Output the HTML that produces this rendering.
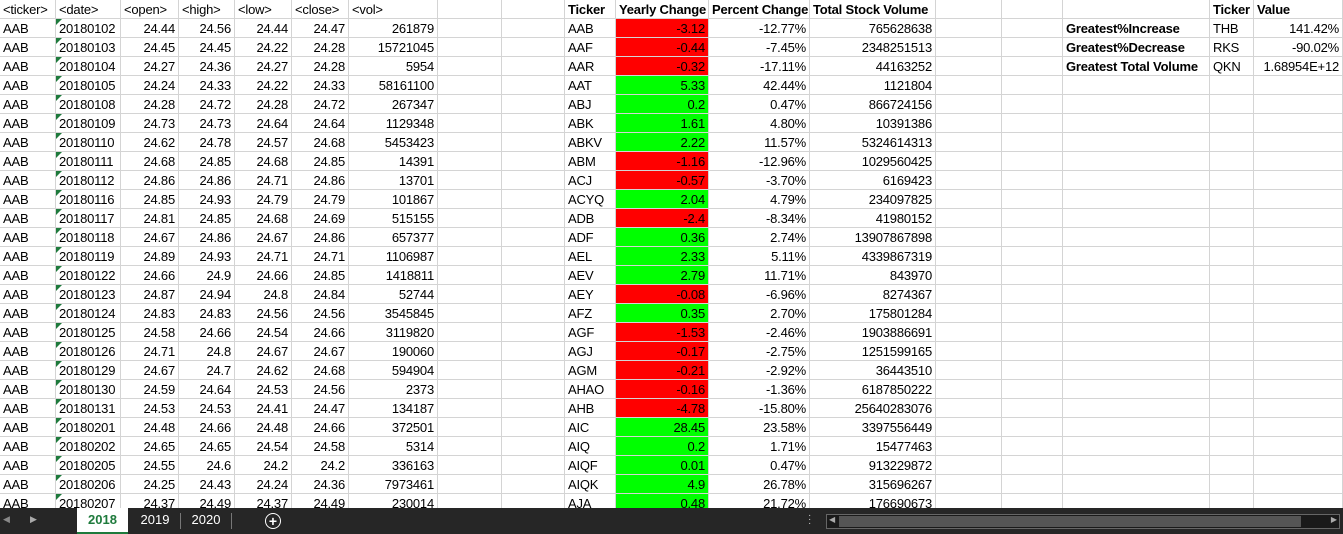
<!DOCTYPE html>
<html><head><meta charset="utf-8">
<style>
body{margin:0;width:1343px;height:534px;overflow:hidden;background:#fff;font-family:"Liberation Sans",Arial,sans-serif;font-size:13px;color:#000;position:relative}
#grid{position:absolute;left:0;top:0;width:1343px;height:508px;overflow:hidden}
.c{position:absolute;height:19px;line-height:19px;box-sizing:border-box;border-right:1px solid #d4d4d4;border-bottom:1px solid #d4d4d4;padding:0 3px;white-space:nowrap;overflow:hidden;letter-spacing:-0.2px}
.r{text-align:right}
.b{font-weight:bold}
.tri{position:absolute;left:0;top:0;width:0;height:0;border-top:6px solid #1e7a3c;border-right:6px solid transparent}
#tabs{position:absolute;left:0;top:508px;width:1343px;height:26px;background:#262626;color:#ddd}
</style></head><body>
<div id="grid"></div>
<div id="tabs">
 <div style="position:absolute;left:3px;top:6px;color:#888;font-size:9px">◀</div>
 <div style="position:absolute;left:30px;top:6px;color:#aaa;font-size:9px">▶</div>
 <div style="position:absolute;left:77px;top:0;width:51px;height:24px;background:#fff;border-bottom:2px solid #1e7a3c;color:#1e7a3c;font-weight:bold;text-align:center;line-height:24px">2018</div>
 <div style="position:absolute;left:130px;top:0;width:50px;height:26px;text-align:center;line-height:24px;color:#fff">2019</div>
 <div style="position:absolute;left:180px;top:5px;width:1px;height:16px;background:#777"></div>
 <div style="position:absolute;left:181px;top:0;width:50px;height:26px;text-align:center;line-height:24px;color:#fff">2020</div>
 <div style="position:absolute;left:231px;top:5px;width:1px;height:16px;background:#777"></div>
 <div style="position:absolute;left:265px;top:5px;width:14px;height:14px;border:1.5px solid #fff;border-radius:50%;color:#fff;text-align:center;line-height:14px;font-weight:bold;font-size:14px">+</div>
 <div style="position:absolute;left:808px;top:6px;color:#ccc;font-size:10px;line-height:4px">·<br>·<br>·</div>
 <div style="position:absolute;left:826px;top:6px;width:514px;height:15px;background:#1a1a1a;border:1px solid #666;box-sizing:border-box">
  <div style="position:absolute;left:12px;top:1px;width:462px;height:11px;background:#555"></div>
  <div style="position:absolute;left:2px;top:0;font-size:8px;color:#aaa">◀</div>
  <div style="position:absolute;right:2px;top:0;font-size:8px;color:#aaa">▶</div>
 </div>
</div>
<script>
const colLefts=[0,56,121,179,235,292,349,438,502,565,616,709,810,936,1002,1063,1210,1254,1343];
const dates=["20180102","20180103","20180104","20180105","20180108","20180109","20180110","20180111","20180112","20180116","20180117","20180118","20180119","20180122","20180123","20180124","20180125","20180126","20180129","20180130","20180131","20180201","20180202","20180205","20180206","20180207"];
const opens=["24.44","24.45","24.27","24.24","24.28","24.73","24.62","24.68","24.86","24.85","24.81","24.67","24.89","24.66","24.87","24.83","24.58","24.71","24.67","24.59","24.53","24.48","24.65","24.55","24.25","24.37"];
const highs=["24.56","24.45","24.36","24.33","24.72","24.73","24.78","24.85","24.86","24.93","24.85","24.86","24.93","24.9","24.94","24.83","24.66","24.8","24.7","24.64","24.53","24.66","24.65","24.6","24.43","24.49"];
const lows=["24.44","24.22","24.27","24.22","24.28","24.64","24.57","24.68","24.71","24.79","24.68","24.67","24.71","24.66","24.8","24.56","24.54","24.67","24.62","24.53","24.41","24.48","24.54","24.2","24.24","24.37"];
const closes=["24.47","24.28","24.28","24.33","24.72","24.64","24.68","24.85","24.86","24.79","24.69","24.86","24.71","24.85","24.84","24.56","24.66","24.67","24.68","24.56","24.47","24.66","24.58","24.2","24.36","24.49"];
const vols=["261879","15721045","5954","58161100","267347","1129348","5453423","14391","13701","101867","515155","657377","1106987","1418811","52744","3545845","3119820","190060","594904","2373","134187","372501","5314","336163","7973461","230014"];
const tickers=["AAB","AAF","AAR","AAT","ABJ","ABK","ABKV","ABM","ACJ","ACYQ","ADB","ADF","AEL","AEV","AEY","AFZ","AGF","AGJ","AGM","AHAO","AHB","AIC","AIQ","AIQF","AIQK","AJA"];
const yearly=[-3.12,-0.44,-0.32,5.33,0.2,1.61,2.22,-1.16,-0.57,2.04,-2.4,0.36,2.33,2.79,-0.08,0.35,-1.53,-0.17,-0.21,-0.16,-4.78,28.45,0.2,0.01,4.9,0.48];
const pct=["-12.77%","-7.45%","-17.11%","42.44%","0.47%","4.80%","11.57%","-12.96%","-3.70%","4.79%","-8.34%","2.74%","5.11%","11.71%","-6.96%","2.70%","-2.46%","-2.75%","-2.92%","-1.36%","-15.80%","23.58%","1.71%","0.47%","26.78%","21.72%"];
const totals=["765628638","2348251513","44163252","1121804","866724156","10391386","5324614313","1029560425","6169423","234097825","41980152","13907867898","4339867319","843970","8274367","175801284","1903886691","1251599165","36443510","6187850222","25640283076","3397556449","15477463","913229872","315696267","176690673"];
const summaryLabels=["Greatest%Increase","Greatest%Decrease","Greatest Total Volume"];
const summaryTickers=["THB","RKS","QKN"];
const summaryValues=["141.42%","-90.02%","1.68954E+12"];
const g=document.getElementById('grid');
const RH=19;
function cell(col,row,text,cls,name,bg){
  const d=document.createElement('div');
  d.className='c '+(cls||'');
  d.style.left=colLefts[col]+'px';d.style.top=(row*RH)+'px';
  d.style.width=(colLefts[col+1]-colLefts[col])+'px';
  if(bg)d.style.background=bg;
  d.textContent=text;
  
  
  g.appendChild(d);return d;
}
const heads=["<ticker>","<date>","<open>","<high>","<low>","<close>","<vol>"];
for(let r=0;r<27;r++)for(let c=0;c<18;c++){cell(c,r,'','','empty-cell');}
heads.forEach((h,i)=>cell(i,0,h,'','raw-header-'+i));
cell(9,0,'Ticker','b','ticker-header');cell(10,0,'Yearly Change','b','yearly-change-header');
cell(11,0,'Percent Change','b','percent-change-header');cell(12,0,'Total Stock Volume','b','total-volume-header');
cell(16,0,'Ticker','b','summary-ticker-header');cell(17,0,'Value','b','summary-value-header');
for(let i=0;i<dates.length;i++){
  const r=i+1;
  cell(0,r,'AAB','','raw-ticker');
  const dc=cell(1,r,dates[i],'','raw-date');
  const t=document.createElement('div');t.className='tri';dc.appendChild(t);
  cell(2,r,opens[i],'r','raw-open');cell(3,r,highs[i],'r','raw-high');
  cell(4,r,lows[i],'r','raw-low');cell(5,r,closes[i],'r','raw-close');
  cell(6,r,vols[i],'r','raw-vol');
  cell(9,r,tickers[i],'','summary-ticker');
  cell(10,r,String(yearly[i]),'r','yearly-change',yearly[i]<0?'#ff0000':'#00ff00');
  cell(11,r,pct[i],'r','percent-change');
  cell(12,r,totals[i],'r','total-volume');
}
for(let i=0;i<3;i++){
  cell(15,i+1,summaryLabels[i],'b','greatest-label');
  cell(16,i+1,summaryTickers[i],'','greatest-ticker');
  cell(17,i+1,summaryValues[i],'r','greatest-value');
}
</script>
</body></html>
